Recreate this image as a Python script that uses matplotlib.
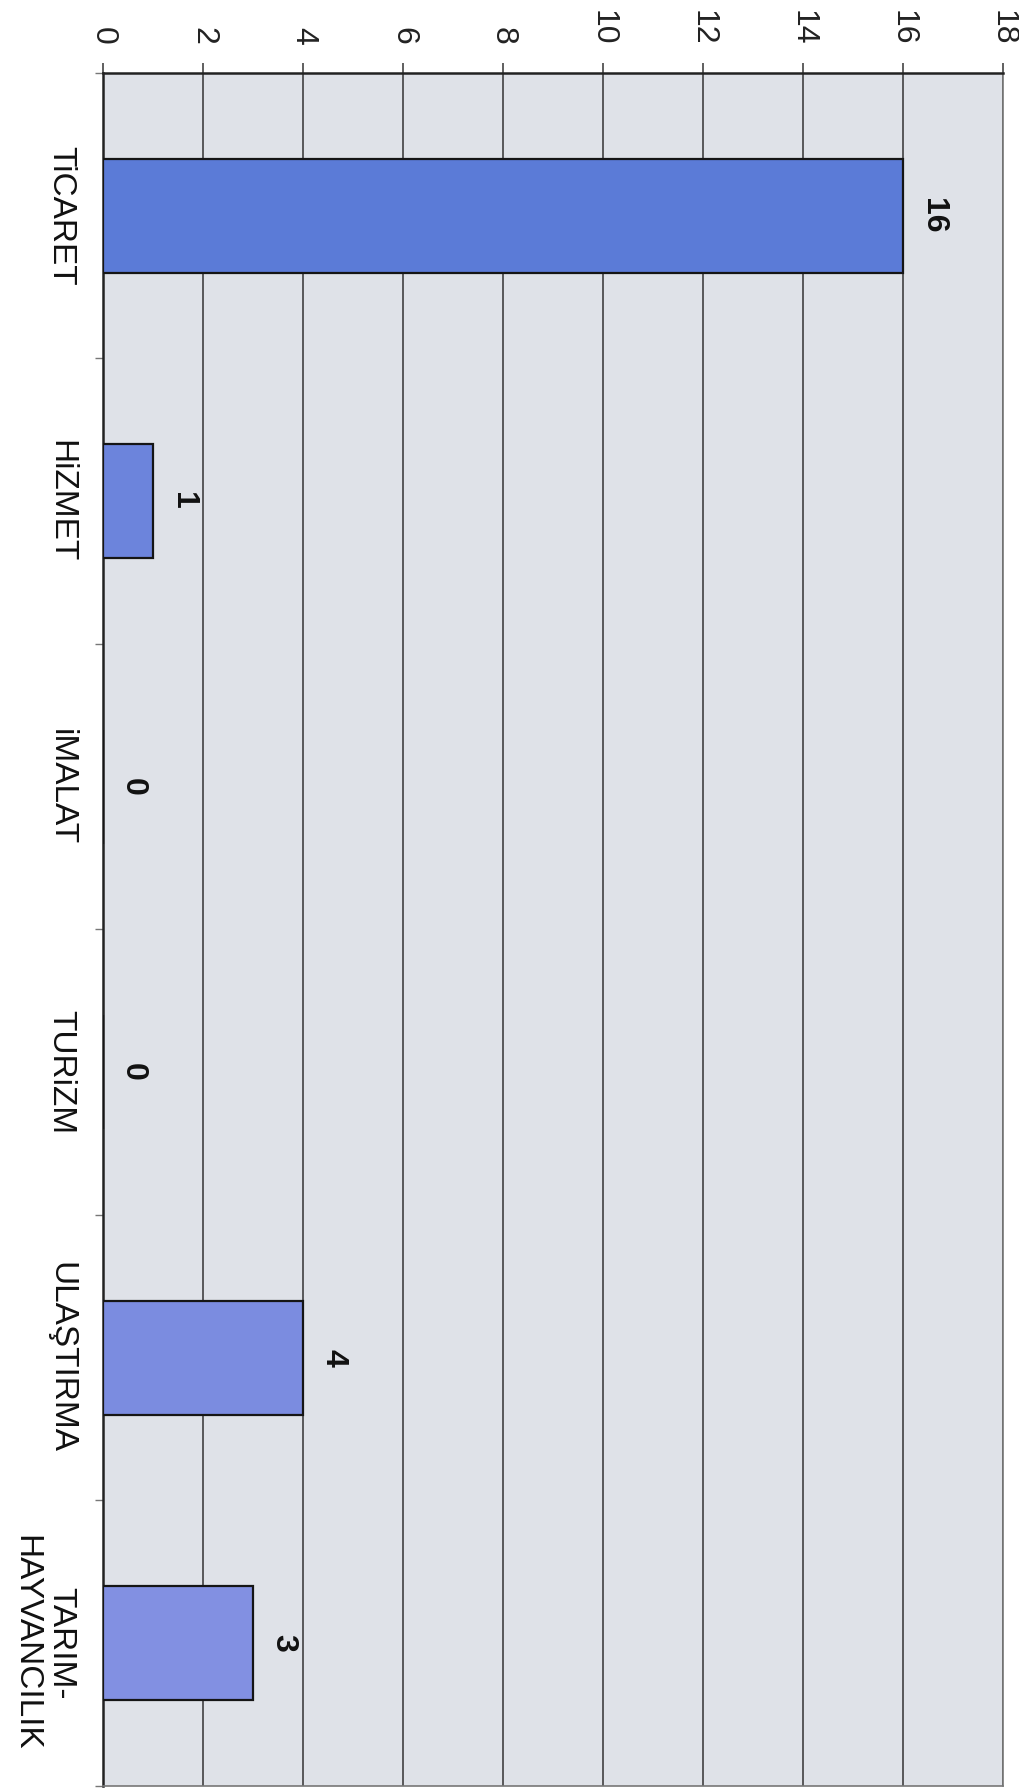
import matplotlib
matplotlib.use("Agg")
import matplotlib.pyplot as plt
import numpy as np

# sectors and counts (chart is printed rotated 90 deg clockwise)
sectors = ["TiCARET", "HiZMET", "iMALAT", "TURiZM", "ULAŞTIRMA", "TARIM-\nHAYVANCILIK"]
counts = [16, 1, 0, 0, 4, 3]
value_ticks = [0, 2, 4, 6, 8, 10, 12, 14, 16, 18]

bar_colors = ["#5b7bd7", "#6c84dc", "#6c84dc", "#6c84dc", "#7b8ce0", "#8290e2"]

plt.rcParams["font.family"] = ["Liberation Sans", "DejaVu Sans"]

fig = plt.figure(figsize=(10.19, 17.92), dpi=100)
ax = fig.add_axes([103 / 1019, 1 - 1786 / 1792, 900 / 1019, (1786 - 73) / 1792])
ax.set_facecolor("#dfe2e8")

pos = np.arange(len(sectors))
ax.barh(pos, counts, height=0.4, color=bar_colors, edgecolor="#151515", linewidth=1.6, zorder=3)

# value labels next to bar ends
for p, v in zip(pos, counts):
    ax.text(v + 0.3, p, str(v), rotation=-90, ha="left", va="center",
            fontsize=23, fontweight="bold", color="#111111", zorder=4)

ax.set_xlim(0, 18)
ax.set_ylim(len(sectors) - 0.5, -0.5)

# value axis on top
ax.xaxis.tick_top()
ax.set_xticks(value_ticks)
ax.set_xticklabels([str(t) for t in value_ticks], rotation=-90, ha="center", va="bottom",
                   fontsize=23, color="#222222")
ax.tick_params(axis="x", length=7, width=1.2, color="#444444", pad=13)
ax.grid(axis="x", color="#333333", linewidth=1.1, zorder=1)

# category axis on the left
ax.set_yticks(pos)
ax.set_yticklabels(sectors, rotation=-90, ha="right", va="center", multialignment="center",
                   fontsize=24, color="#111111")
ax.set_yticks(np.arange(len(sectors) + 1) - 0.5, minor=True)
ax.tick_params(axis="y", which="major", length=0, pad=19)
ax.tick_params(axis="y", which="minor", length=6, width=1.0, color="#777777")

for side in ["left", "top"]:
    ax.spines[side].set_color("#222222")
    ax.spines[side].set_linewidth(1.8)
for side in ["right", "bottom"]:
    ax.spines[side].set_color("#777777")
    ax.spines[side].set_linewidth(1.2)

fig.savefig("out.png", dpi=100)
